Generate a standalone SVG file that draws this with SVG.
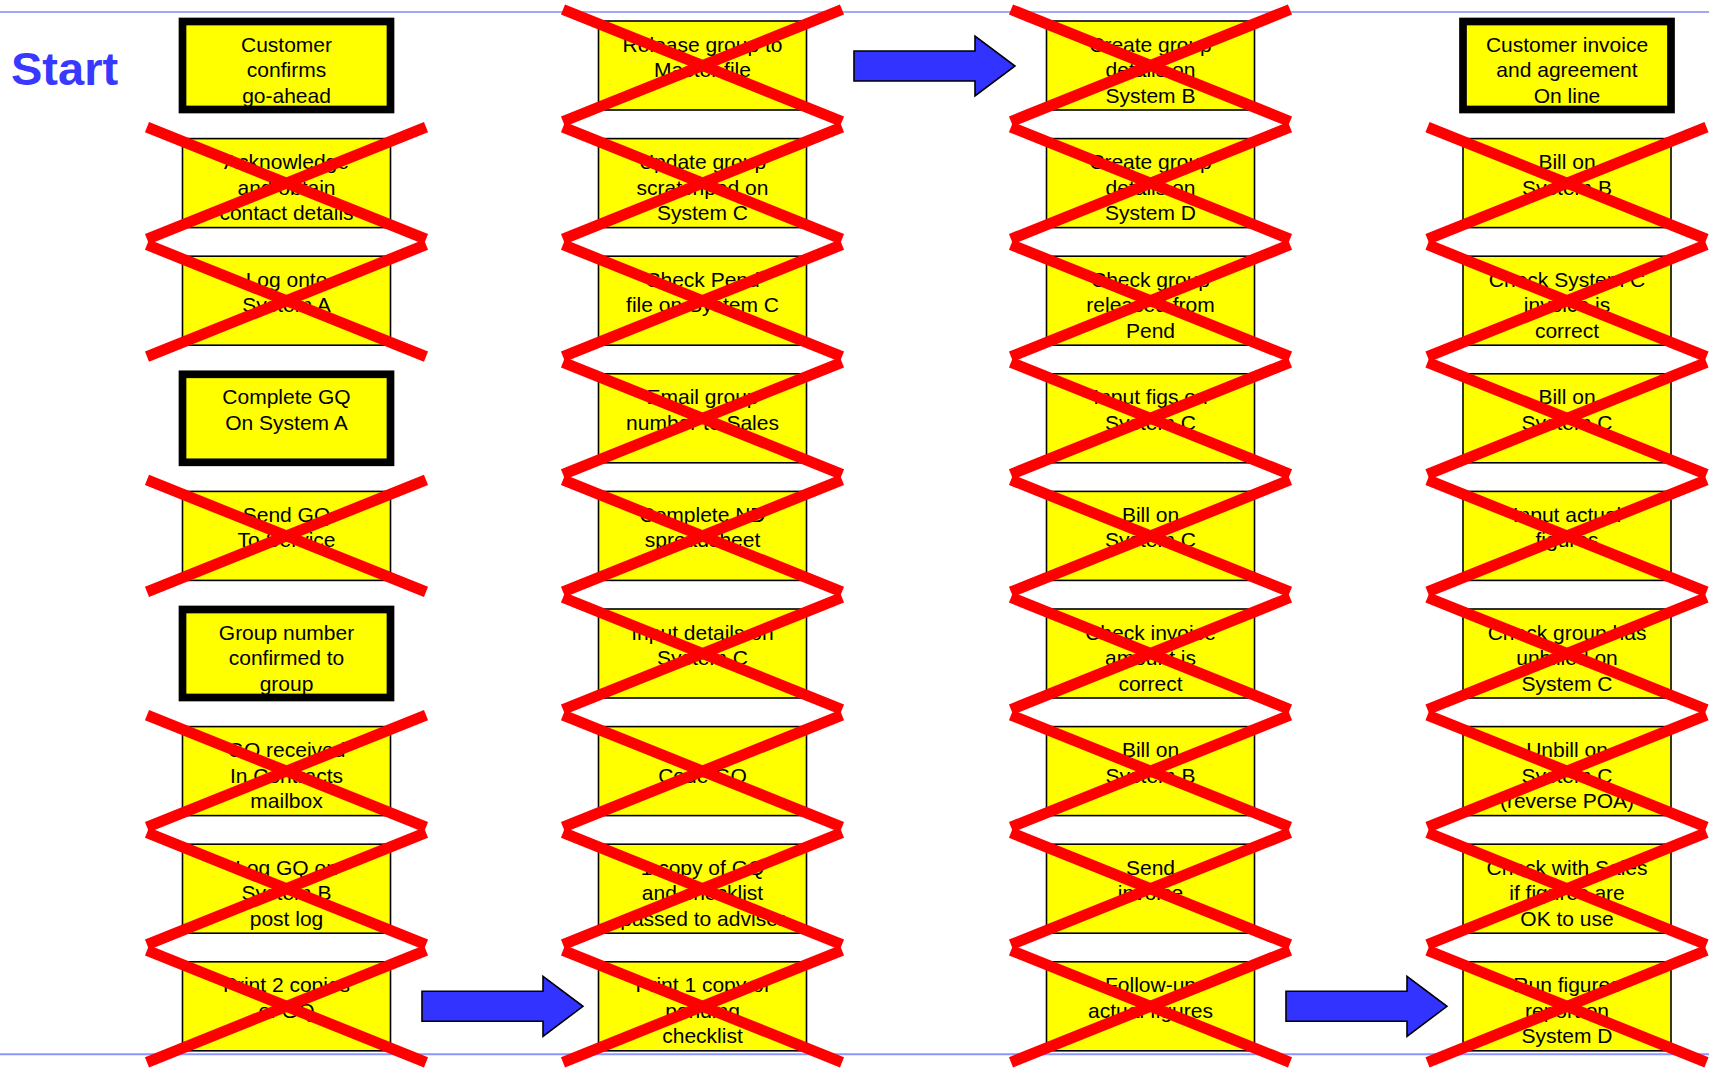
<svg xmlns="http://www.w3.org/2000/svg" xmlns:xlink="http://www.w3.org/1999/xlink" width="1709" height="1071" viewBox="0 0 1709 1071">
<style>
.box{fill:#FFFF00;stroke:#000;stroke-width:1.6}
.fillonly{fill:#FFFF00;stroke:none}
.thick{fill:none;stroke:#000;stroke-width:7.7}
.lbl{font-family:"Liberation Sans",Arial,sans-serif;font-size:21px;fill:#000;text-anchor:middle}
.strike{stroke:#FF0000;stroke-width:11;stroke-linecap:butt;fill:none}
.arrow{fill:#3333FF;stroke:#000;stroke-width:1.6;stroke-linejoin:miter}
.start{font-family:"Liberation Sans",Arial,sans-serif;font-size:47px;font-weight:bold;fill:#3838FF}
</style>
<defs>
<g id="x"><line class="strike" x1="-139.5" y1="-56" x2="139.5" y2="56"/><line class="strike" x1="-139.5" y1="56" x2="139.5" y2="-56"/></g>
<rect id="tb" class="box" x="-104" y="-44.5" width="208" height="89"/>
<path id="arr" class="arrow" d="M0,-15 H121 V-30 L161,0 L121,30 V15 H0 Z"/>
</defs>
<rect width="1709" height="1071" fill="#fff"/>
<line x1="0" y1="12" x2="1709" y2="12" stroke="#A0A8F8" stroke-width="2"/>
<line x1="0" y1="1054.3" x2="1709" y2="1054.3" stroke="#8C96FF" stroke-width="2"/>
<text class="start" x="11" y="85">Start</text>

<!-- Column 1 -->
<g id="c1r0" transform="translate(286.5,65.5)"><rect class="fillonly" x="-104" y="-44" width="208" height="88"/><text class="lbl"><tspan x="0" y="-14">Customer</tspan><tspan x="0" y="11.5">confirms</tspan><tspan x="0" y="37">go-ahead</tspan></text><rect class="thick" x="-104" y="-44" width="208" height="88"/></g>
<g id="c1r1" transform="translate(286.5,183.1)"><use href="#tb"/><text class="lbl"><tspan x="0" y="-14">Acknowledge</tspan><tspan x="0" y="11.5">and obtain</tspan><tspan x="0" y="37">contact details</tspan></text><use href="#x"/></g>
<g id="c1r2" transform="translate(286.5,300.7)"><use href="#tb"/><text class="lbl"><tspan x="0" y="-14">Log onto</tspan><tspan x="0" y="11.5">System A</tspan></text><use href="#x"/></g>
<g id="c1r3" transform="translate(286.5,418.3)"><rect class="fillonly" x="-104" y="-44" width="208" height="88"/><text class="lbl"><tspan x="0" y="-14">Complete GQ</tspan><tspan x="0" y="11.5">On System A</tspan></text><rect class="thick" x="-104" y="-44" width="208" height="88"/></g>
<g id="c1r4" transform="translate(286.5,535.9)"><use href="#tb"/><text class="lbl"><tspan x="0" y="-14">Send GQ</tspan><tspan x="0" y="11.5">To Service</tspan></text><use href="#x"/></g>
<g id="c1r5" transform="translate(286.5,653.5)"><rect class="fillonly" x="-104" y="-44" width="208" height="88"/><text class="lbl"><tspan x="0" y="-14">Group number</tspan><tspan x="0" y="11.5">confirmed to</tspan><tspan x="0" y="37">group</tspan></text><rect class="thick" x="-104" y="-44" width="208" height="88"/></g>
<g id="c1r6" transform="translate(286.5,771.1)"><use href="#tb"/><text class="lbl"><tspan x="0" y="-14">GQ received</tspan><tspan x="0" y="11.5">In Contracts</tspan><tspan x="0" y="37">mailbox</tspan></text><use href="#x"/></g>
<g id="c1r7" transform="translate(286.5,888.7)"><use href="#tb"/><text class="lbl"><tspan x="0" y="-14">Log GQ on</tspan><tspan x="0" y="11.5">System B</tspan><tspan x="0" y="37">post log</tspan></text><use href="#x"/></g>
<g id="c1r8" transform="translate(286.5,1006.3)"><use href="#tb"/><text class="lbl"><tspan x="0" y="-14">Print 2 copies</tspan><tspan x="0" y="11.5">of GQ</tspan></text><use href="#x"/></g>

<!-- Column 2 -->
<g id="c2r0" transform="translate(702.5,65.5)"><use href="#tb"/><text class="lbl"><tspan x="0" y="-14">Release group to</tspan><tspan x="0" y="11.5">Master file</tspan></text><use href="#x"/></g>
<g id="c2r1" transform="translate(702.5,183.1)"><use href="#tb"/><text class="lbl"><tspan x="0" y="-14">Update group</tspan><tspan x="0" y="11.5">scratchpad on</tspan><tspan x="0" y="37">System C</tspan></text><use href="#x"/></g>
<g id="c2r2" transform="translate(702.5,300.7)"><use href="#tb"/><text class="lbl"><tspan x="0" y="-14">Check Pend</tspan><tspan x="0" y="11.5">file on System C</tspan></text><use href="#x"/></g>
<g id="c2r3" transform="translate(702.5,418.3)"><use href="#tb"/><text class="lbl"><tspan x="0" y="-14">Email group</tspan><tspan x="0" y="11.5">number to Sales</tspan></text><use href="#x"/></g>
<g id="c2r4" transform="translate(702.5,535.9)"><use href="#tb"/><text class="lbl"><tspan x="0" y="-14">Complete ND</tspan><tspan x="0" y="11.5">spreadsheet</tspan></text><use href="#x"/></g>
<g id="c2r5" transform="translate(702.5,653.5)"><use href="#tb"/><text class="lbl"><tspan x="0" y="-14">Input details on</tspan><tspan x="0" y="11.5">System C</tspan></text><use href="#x"/></g>
<g id="c2r6" transform="translate(702.5,771.1)"><use href="#tb"/><text class="lbl"><tspan x="0" y="11.5">Code GQ</tspan></text><use href="#x"/></g>
<g id="c2r7" transform="translate(702.5,888.7)"><use href="#tb"/><text class="lbl"><tspan x="0" y="-14">1 copy of GQ</tspan><tspan x="0" y="11.5">and checklist</tspan><tspan x="0" y="37">passed to adviser</tspan></text><use href="#x"/></g>
<g id="c2r8" transform="translate(702.5,1006.3)"><use href="#tb"/><text class="lbl"><tspan x="0" y="-14">Print 1 copy of</tspan><tspan x="0" y="11.5">pending</tspan><tspan x="0" y="37">checklist</tspan></text><use href="#x"/></g>

<!-- Column 3 -->
<g id="c3r0" transform="translate(1150.5,65.5)"><use href="#tb"/><text class="lbl"><tspan x="0" y="-14">Create group</tspan><tspan x="0" y="11.5">details on</tspan><tspan x="0" y="37">System B</tspan></text><use href="#x"/></g>
<g id="c3r1" transform="translate(1150.5,183.1)"><use href="#tb"/><text class="lbl"><tspan x="0" y="-14">Create group</tspan><tspan x="0" y="11.5">details on</tspan><tspan x="0" y="37">System D</tspan></text><use href="#x"/></g>
<g id="c3r2" transform="translate(1150.5,300.7)"><use href="#tb"/><text class="lbl"><tspan x="0" y="-14">Check group</tspan><tspan x="0" y="11.5">released from</tspan><tspan x="0" y="37">Pend</tspan></text><use href="#x"/></g>
<g id="c3r3" transform="translate(1150.5,418.3)"><use href="#tb"/><text class="lbl"><tspan x="0" y="-14">Input figs on</tspan><tspan x="0" y="11.5">System C</tspan></text><use href="#x"/></g>
<g id="c3r4" transform="translate(1150.5,535.9)"><use href="#tb"/><text class="lbl"><tspan x="0" y="-14">Bill on</tspan><tspan x="0" y="11.5">System C</tspan></text><use href="#x"/></g>
<g id="c3r5" transform="translate(1150.5,653.5)"><use href="#tb"/><text class="lbl"><tspan x="0" y="-14">Check invoice</tspan><tspan x="0" y="11.5">amount is</tspan><tspan x="0" y="37">correct</tspan></text><use href="#x"/></g>
<g id="c3r6" transform="translate(1150.5,771.1)"><use href="#tb"/><text class="lbl"><tspan x="0" y="-14">Bill on</tspan><tspan x="0" y="11.5">System B</tspan></text><use href="#x"/></g>
<g id="c3r7" transform="translate(1150.5,888.7)"><use href="#tb"/><text class="lbl"><tspan x="0" y="-14">Send</tspan><tspan x="0" y="11.5">invoice</tspan></text><use href="#x"/></g>
<g id="c3r8" transform="translate(1150.5,1006.3)"><use href="#tb"/><text class="lbl"><tspan x="0" y="-14">Follow-up</tspan><tspan x="0" y="11.5">actual figures</tspan></text><use href="#x"/></g>

<!-- Column 4 -->
<g id="c4r0" transform="translate(1567,65.5)"><rect class="fillonly" x="-104" y="-44" width="208" height="88"/><text class="lbl"><tspan x="0" y="-14">Customer invoice</tspan><tspan x="0" y="11.5">and agreement</tspan><tspan x="0" y="37">On line</tspan></text><rect class="thick" x="-104" y="-44" width="208" height="88"/></g>
<g id="c4r1" transform="translate(1567,183.1)"><use href="#tb"/><text class="lbl"><tspan x="0" y="-14">Bill on</tspan><tspan x="0" y="11.5">System B</tspan></text><use href="#x"/></g>
<g id="c4r2" transform="translate(1567,300.7)"><use href="#tb"/><text class="lbl"><tspan x="0" y="-14">Check System C</tspan><tspan x="0" y="11.5">invoice is</tspan><tspan x="0" y="37">correct</tspan></text><use href="#x"/></g>
<g id="c4r3" transform="translate(1567,418.3)"><use href="#tb"/><text class="lbl"><tspan x="0" y="-14">Bill on</tspan><tspan x="0" y="11.5">System C</tspan></text><use href="#x"/></g>
<g id="c4r4" transform="translate(1567,535.9)"><use href="#tb"/><text class="lbl"><tspan x="0" y="-14">Input actual</tspan><tspan x="0" y="11.5">figures</tspan></text><use href="#x"/></g>
<g id="c4r5" transform="translate(1567,653.5)"><use href="#tb"/><text class="lbl"><tspan x="0" y="-14">Check group has</tspan><tspan x="0" y="11.5">unbilled on</tspan><tspan x="0" y="37">System C</tspan></text><use href="#x"/></g>
<g id="c4r6" transform="translate(1567,771.1)"><use href="#tb"/><text class="lbl"><tspan x="0" y="-14">Unbill on</tspan><tspan x="0" y="11.5">System C</tspan><tspan x="0" y="37">(reverse POA)</tspan></text><use href="#x"/></g>
<g id="c4r7" transform="translate(1567,888.7)"><use href="#tb"/><text class="lbl"><tspan x="0" y="-14">Check with Sales</tspan><tspan x="0" y="11.5">if figures are</tspan><tspan x="0" y="37">OK to use</tspan></text><use href="#x"/></g>
<g id="c4r8" transform="translate(1567,1006.3)"><use href="#tb"/><text class="lbl"><tspan x="0" y="-14">Run figures</tspan><tspan x="0" y="11.5">report on</tspan><tspan x="0" y="37">System D</tspan></text><use href="#x"/></g>

<g id="connectors">
<use href="#arr" transform="translate(854,66)"/>
<use href="#arr" transform="translate(422,1006.3)"/>
<use href="#arr" transform="translate(1286,1006.3)"/>
</g>
</svg>
